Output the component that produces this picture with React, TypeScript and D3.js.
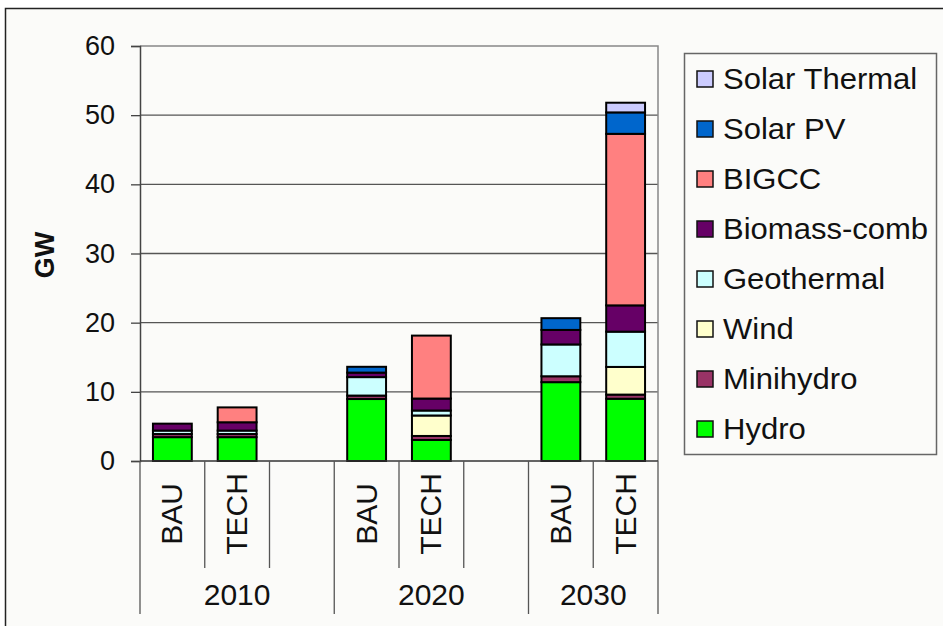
import { useEffect, useRef } from "react";
import * as d3 from "d3";

const years = ["2010", "2020", "2030"];
const scenarios = ["BAU", "TECH"];
// one slot per bar, with an empty slot after each year except the last
const slots = ["2010-BAU", "2010-TECH", "2010-gap", "2020-BAU", "2020-TECH", "2020-gap", "2030-BAU", "2030-TECH"];
const barKeys = ["2010-BAU", "2010-TECH", "2020-BAU", "2020-TECH", "2030-BAU", "2030-TECH"];

const techs = ["Hydro", "Minihydro", "Wind", "Geothermal", "Biomass-comb", "BIGCC", "Solar PV", "Solar Thermal"];
const colors = ["#00ff00", "#993366", "#ffffcc", "#ccffff", "#660066", "#ff8080", "#0066cc", "#ccccff"];

const hydro = [3.45, 3.45, 8.96, 3.04, 11.4, 9.0];
const minihydro = [0.45, 0.45, 0.5, 0.58, 0.85, 0.6];
const wind = [0, 0, 0, 2.96, 0, 4.0];
const geothermal = [0.5, 0.5, 2.67, 0.72, 4.6, 5.1];
const biomass = [1.0, 1.2, 0.65, 1.73, 2.1, 3.8];
const bigcc = [0, 2.15, 0, 9.1, 0, 24.8];
const solarPV = [0, 0, 0.84, 0, 1.7, 3.1];
const solarThermal = [0, 0, 0, 0, 0, 1.4];

const seriesValues = [hydro, minihydro, wind, geothermal, biomass, bigcc, solarPV, solarThermal];
const yTicks = [0, 10, 20, 30, 40, 50, 60];

const W = 943;
const H = 626;
const FONT = "'Liberation Sans', Arial, sans-serif";

export default function App() {
  const svgRef = useRef<SVGSVGElement>(null);

  useEffect(() => {
    const svg = d3.select(svgRef.current);
    svg.selectAll("*").remove();

    const m = { left: 140, right: 658, top: 46, bottom: 461 };

    svg.append("rect").attr("x", 0).attr("y", 0).attr("width", W).attr("height", H).attr("fill", "#ffffff");
    svg.append("rect").attr("x", 5.5).attr("y", 8.5).attr("width", W + 10).attr("height", H + 10)
      .attr("fill", "#fbfbf9").attr("stroke", "#222").attr("stroke-width", 1.5);

    const x = d3.scaleBand().domain(slots).range([m.left, m.right]).paddingInner(0).paddingOuter(0);
    const y = d3.scaleLinear().domain([0, 60]).range([m.bottom, m.top]);
    const bw = x.bandwidth() * 0.6;

    // grid
    svg.append("g").selectAll("line").data(yTicks.filter((t) => t > 0 && t < 60)).join("line")
      .attr("x1", m.left).attr("x2", m.right).attr("y1", (d) => y(d)).attr("y2", (d) => y(d))
      .attr("stroke", "#555").attr("stroke-width", 1.3);
    // frame top / right
    svg.append("path").attr("d", `M${m.left},${y(60)}H${m.right}V${m.bottom}`)
      .attr("fill", "none").attr("stroke", "#888").attr("stroke-width", 1.5);

    // stacked bars
    const rows = barKeys.map((k, i) => {
      const r: any = { key: k };
      techs.forEach((t, j) => (r[t] = seriesValues[j][i]));
      return r;
    });
    const stacked = d3.stack<any>().keys(techs)(rows);
    stacked.forEach((layer, j) => {
      svg.append("g").selectAll("rect").data(layer.filter((d) => d[1] - d[0] > 0)).join("rect")
        .attr("x", (d) => (x(d.data.key) as number) + (x.bandwidth() - bw) / 2)
        .attr("width", bw)
        .attr("y", (d) => y(d[1]))
        .attr("height", (d) => y(d[0]) - y(d[1]))
        .attr("fill", colors[j])
        .attr("stroke", "#000")
        .attr("stroke-width", 2);
    });

    // y axis
    const yAxis = svg.append("g").attr("transform", `translate(${m.left},0)`)
      .call(d3.axisLeft(y).tickValues(yTicks).tickSize(9).tickPadding(16));
    yAxis.select(".domain").attr("stroke", "#444").attr("stroke-width", 1.5);
    yAxis.selectAll(".tick line").attr("stroke", "#444").attr("stroke-width", 1.3);
    yAxis.selectAll(".tick text").attr("font-family", FONT).attr("font-size", 27).attr("fill", "#111");

    svg.append("text").attr("transform", `translate(54,255) rotate(-90)`)
      .attr("text-anchor", "middle").attr("font-family", FONT).attr("font-weight", "bold")
      .attr("font-size", 27).attr("fill", "#111").text("GW");

    // x axis
    svg.append("line").attr("x1", m.left).attr("x2", m.right).attr("y1", m.bottom).attr("y2", m.bottom)
      .attr("stroke", "#333").attr("stroke-width", 1.5);

    const bounds = slots.map((s) => x(s) as number).concat([m.right]);
    bounds.forEach((bx, i) => {
      const isGroup = i === 0 || i === bounds.length - 1 || slots[i - 1].endsWith("gap");
      svg.append("line").attr("x1", bx).attr("x2", bx).attr("y1", m.bottom).attr("y2", isGroup ? 614 : 568)
        .attr("stroke", "#555").attr("stroke-width", 1.3);
    });

    years.forEach((yr) => {
      scenarios.forEach((sc) => {
        const cx = (x(`${yr}-${sc}`) as number) + x.bandwidth() / 2;
        svg.append("text").attr("transform", `translate(${cx + 10},514) rotate(-90)`)
          .attr("text-anchor", "middle").attr("font-family", FONT).attr("font-size", 30)
          .attr("fill", "#111").text(sc);
      });
      const x0 = x(`${yr}-BAU`) as number;
      const x1 = (x(`${yr}-TECH`) as number) + x.bandwidth();
      const gx = yr === "2030" ? (x0 + x1) / 2 : (x0 + x1 + x.bandwidth()) / 2;
      svg.append("text").attr("x", gx).attr("y", 605).attr("text-anchor", "middle")
        .attr("font-family", FONT).attr("font-size", 30).attr("fill", "#111").text(yr);
    });

    // legend
    svg.append("rect").attr("x", 684.5).attr("y", 53.5).attr("width", 252).attr("height", 401)
      .attr("fill", "#fbfbf9").attr("stroke", "#666").attr("stroke-width", 1.5);
    const order = techs.slice().reverse();
    const lg = svg.append("g").selectAll("g").data(order).join("g")
      .attr("transform", (_d, i) => `translate(697,${79 + i * 50})`);
    lg.append("rect").attr("x", 0).attr("y", -8).attr("width", 16).attr("height", 16)
      .attr("fill", (d) => colors[techs.indexOf(d)]).attr("stroke", "#111").attr("stroke-width", 1.5);
    lg.append("text").attr("transform", "translate(26,0) scale(1.07,1)").attr("dy", "0.36em")
      .attr("font-family", FONT).attr("font-size", 29).attr("fill", "#111").text((d) => d);
  }, []);

  return (
    <svg ref={svgRef} width={W} height={H} style={{ position: "absolute", left: 0, top: 0 }}></svg>
  );
}
